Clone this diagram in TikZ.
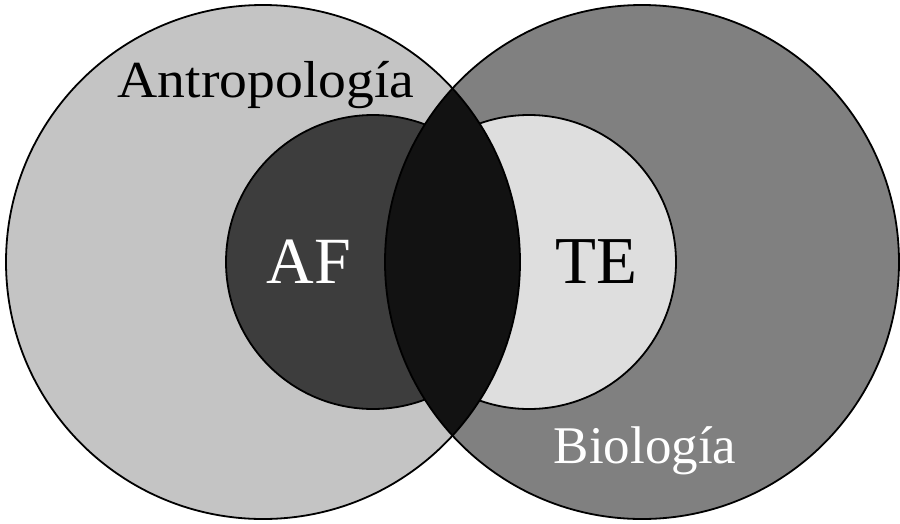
\documentclass[tikz,border=0pt]{standalone}
\usepackage{graphicx}
\usepackage{fontspec}
\setmainfont{Liberation Serif}
\definecolor{bigL}{gray}{0.77}
\definecolor{bigR}{gray}{0.50}
\definecolor{afc}{gray}{0.24}
\definecolor{tec}{gray}{0.87}
\definecolor{lensc}{gray}{0.07}
\tikzset{
  outline/.style={draw=black, line width=1.8pt},
  lbl/.style={anchor=base, inner sep=0pt, outer sep=0pt},
}
\begin{document}
\begin{tikzpicture}[x=1pt,y=-1pt]
\useasboundingbox (0,0) rectangle (900,523);
\fill[white] (0,0) rectangle (900,523);
\coordinate (L) at (263,262);
\coordinate (R) at (642,262);
\coordinate (A) at (373,262);
\coordinate (T) at (529,262);
% big circles
\fill[bigL] (L) circle[radius=257];
\fill[bigR] (R) circle[radius=257];
% inner circles, each kept inside its big circle
\begin{scope}
  \clip (L) circle[radius=257];
  \fill[afc] (A) circle[radius=147];
  \draw[outline] (A) circle[radius=147];
\end{scope}
\begin{scope}
  \clip (R) circle[radius=257];
  \fill[tec] (T) circle[radius=147];
  \draw[outline] (T) circle[radius=147];
\end{scope}
% lens
\begin{scope}
  \clip (L) circle[radius=257];
  \fill[lensc] (R) circle[radius=257];
\end{scope}
\draw[outline] (L) circle[radius=257];
\draw[outline] (R) circle[radius=257];
% labels
\node[lbl, text=black] (antro) at (266,97) {\fontsize{52}{60}\selectfont\scalebox{1.07}[1]{Antropología}};
\node[lbl, text=white] (bio) at (645,463) {\fontsize{53}{60}\selectfont Biología};
\node[lbl, text=white] (af) at (309,283) {\fontsize{66}{70}\selectfont AF};
\node[lbl, text=black] (te) at (596,283) {\fontsize{67}{70}\selectfont TE};
\end{tikzpicture}
\end{document}
